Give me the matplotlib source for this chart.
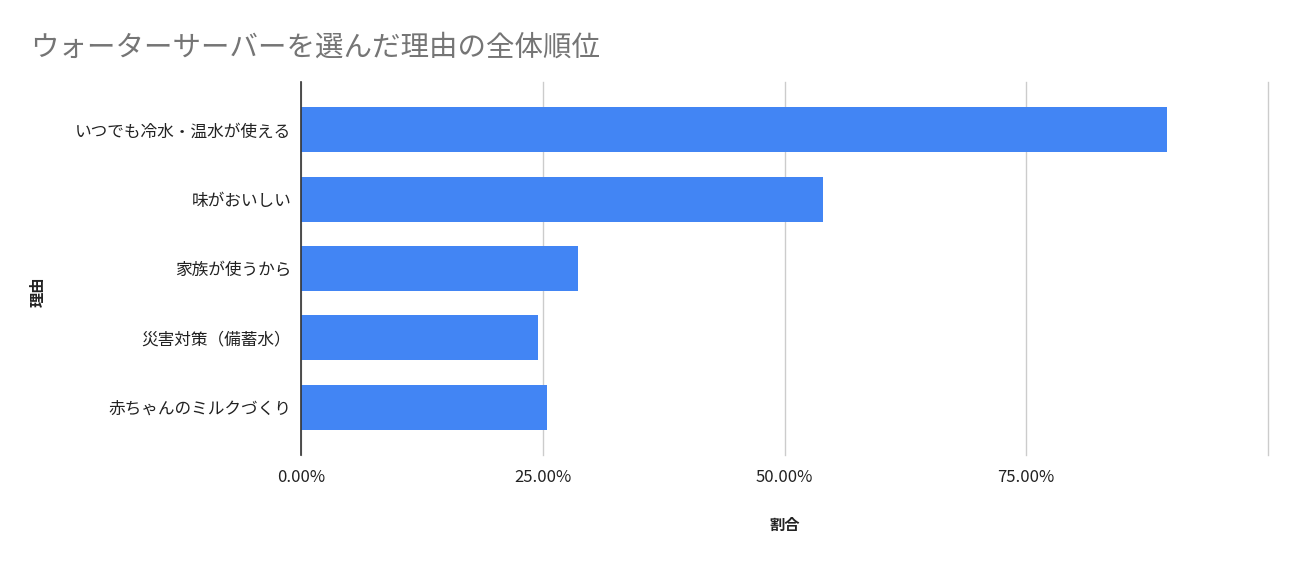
import matplotlib
matplotlib.use('Agg')
import matplotlib.pyplot as plt

plt.rcParams['font.family'] = ['Noto Sans CJK JP', 'DejaVu Sans']

# データ
reasons = ['いつでも冷水・温水が使える', '味がおいしい', '家族が使うから',
           '災害対策（備蓄水）', '赤ちゃんのミルクづくり']
ratios = [89.6, 54.0, 28.6, 24.5, 25.4]
xticks = [0, 25, 50, 75, 100]
xtick_labels = ['0.00%', '25.00%', '50.00%', '75.00%', '']

fig = plt.figure(figsize=(12.96, 5.63), dpi=100)
ax = fig.add_axes([301 / 1296, 1 - 455 / 563, (1268 - 301) / 1296, (455 - 82) / 563])

ax.barh(range(len(reasons)), ratios, height=0.65, color='#4285F4', zorder=3)
ax.set_ylim(len(reasons) - 1 + 0.69, -0.69)
ax.set_xlim(0, 100)

ax.set_xticks(xticks)
ax.set_xticklabels(xtick_labels)
ax.set_yticks(range(len(reasons)))
ax.set_yticklabels(reasons)
ax.tick_params(axis='both', length=0, labelsize=12, colors='#222222')
ax.tick_params(axis='x', pad=10)
ax.tick_params(axis='y', pad=7)

ax.grid(axis='x', color='#cccccc', linewidth=1, zorder=0)
for gl in ax.get_xgridlines():
    gl.set_clip_on(False)
for s in ['top', 'right', 'bottom']:
    ax.spines[s].set_visible(False)
ax.spines['left'].set_color('#333333')
ax.spines['left'].set_linewidth(1.2)
ax.spines['left'].set_zorder(4)

ax.set_xlabel('割合', fontsize=11, color='#222222', labelpad=22, fontweight='bold')
fig.text(38 / 1296, 1 - 292 / 563, '理由', rotation=90, fontsize=11,
         color='#222222', ha='center', va='center', fontweight='bold')

fig.text(30 / 1296, 1 - 48 / 563, 'ウォーターサーバーを選んだ理由の全体順位',
         fontsize=20.5, color='#757575', ha='left', va='center')

fig.savefig('out.png', dpi=100)
